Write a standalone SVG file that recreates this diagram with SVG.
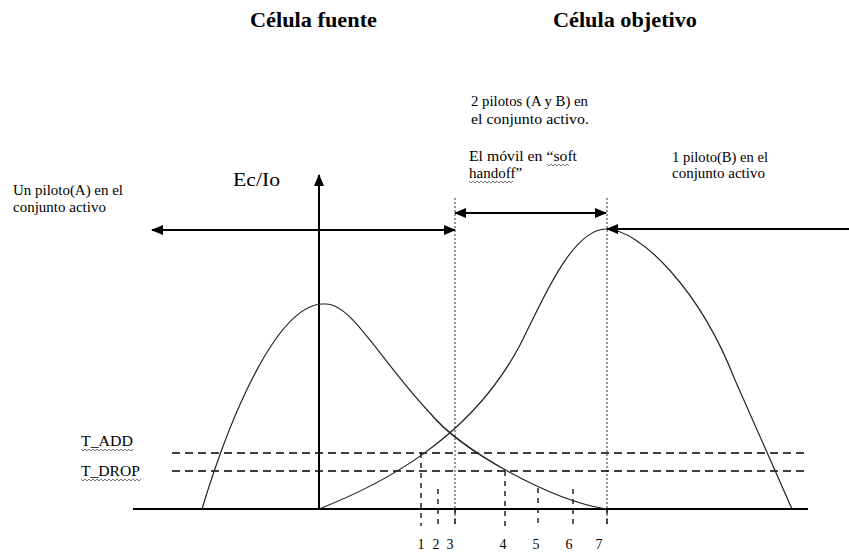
<svg xmlns="http://www.w3.org/2000/svg" width="849" height="552" viewBox="0 0 849 552">
<style>
text{font-family:"Liberation Serif","Times New Roman",serif;fill:#000}
.title{font-size:22px;font-weight:bold}
.lbl{font-size:15px}
.num{font-size:14px;text-anchor:middle}
.axis{stroke:#000;stroke-width:2;fill:none}
.arr{stroke:#000;stroke-width:2;fill:none}
.curve{stroke:#222;stroke-width:1.2;fill:none}
.thr{stroke:#000;stroke-width:1.3;stroke-dasharray:8 5;fill:none}
.tick{stroke:#000;stroke-width:1.3;stroke-dasharray:5 5;fill:none}
.dot{stroke:#333;stroke-width:1;stroke-dasharray:2 2;fill:none}
.sq{stroke:#555;stroke-width:0.8;fill:none}
</style>
<defs>
<marker id="ah" viewBox="0 0 12 10" refX="11" refY="5" markerWidth="12" markerHeight="10" markerUnits="userSpaceOnUse" orient="auto-start-reverse">
<path d="M0,0 L12,5 L0,10 Z" fill="#000"/>
</marker>
</defs>
<rect width="849" height="552" fill="#fff"/>

<g id="titles">
<text class="title" x="250" y="27" textLength="127" lengthAdjust="spacingAndGlyphs">Célula fuente</text>
<text class="title" x="553" y="27" textLength="144" lengthAdjust="spacingAndGlyphs">Célula objetivo</text>
</g>

<g id="labels">
<text class="lbl" x="471" y="106" textLength="117" lengthAdjust="spacingAndGlyphs">2 pilotos (A y B) en</text>
<text class="lbl" x="471" y="124" textLength="118" lengthAdjust="spacingAndGlyphs">el  conjunto  activo.</text>
<text class="lbl" x="469" y="161" textLength="108" lengthAdjust="spacingAndGlyphs">El móvil en  “soft</text>
<text class="lbl" x="469" y="178">handoff”</text>
<text class="lbl" x="672" y="162" textLength="96" lengthAdjust="spacingAndGlyphs">1 piloto(B) en el</text>
<text class="lbl" x="672" y="178">conjunto activo</text>
<text class="lbl" x="13" y="195" textLength="110" lengthAdjust="spacingAndGlyphs">Un piloto(A) en el</text>
<text class="lbl" x="13" y="212">conjunto activo</text>
<text x="233" y="186" style="font-size:18px" textLength="47" lengthAdjust="spacingAndGlyphs">Ec/Io</text>
<text class="lbl" x="81" y="446" textLength="52" lengthAdjust="spacingAndGlyphs">T_ADD</text>
<text class="lbl" x="81" y="476" textLength="59" lengthAdjust="spacingAndGlyphs">T_DROP</text>
<path class="sq" d="M547,164 l2,2 l2,-2 l2,2 l2,-2 l2,2 l2,-2 l2,2 l2,-2 l2,2 l2,-2 l2,2"/>
<path class="sq" d="M469,181 l2,2 l2,-2 l2,2 l2,-2 l2,2 l2,-2 l2,2 l2,-2 l2,2 l2,-2 l2,2 l2,-2 l2,2 l2,-2 l2,2 l2,-2 l2,2 l2,-2 l2,2 l2,-2 l2,2 l2,-2"/>
<path class="sq" d="M81,449 l2,2 l2,-2 l2,2 l2,-2 l2,2 l2,-2 l2,2 l2,-2 l2,2 l2,-2 l2,2 l2,-2 l2,2 l2,-2 l2,2 l2,-2 l2,2 l2,-2 l2,2 l2,-2 l2,2 l2,-2 l2,2 l2,-2 l2,2 l2,-2"/>
<path class="sq" d="M81,479 l2,2 l2,-2 l2,2 l2,-2 l2,2 l2,-2 l2,2 l2,-2 l2,2 l2,-2 l2,2 l2,-2 l2,2 l2,-2 l2,2 l2,-2 l2,2 l2,-2 l2,2 l2,-2 l2,2 l2,-2 l2,2 l2,-2 l2,2 l2,-2 l2,2 l2,-2 l2,2 l2,-2"/>
</g>

<g id="numbers">
<text class="num" x="421" y="549">1</text>
<text class="num" x="436" y="549">2</text>
<text class="num" x="450" y="549">3</text>
<text class="num" x="503" y="549">4</text>
<text class="num" x="536" y="549">5</text>
<text class="num" x="569" y="549">6</text>
<text class="num" x="599" y="549">7</text>
</g>

<g id="guides">
<line class="dot" x1="455" y1="198" x2="455" y2="526"/>
<line class="dot" x1="607" y1="198" x2="607" y2="526"/>
<line class="thr" x1="172" y1="453" x2="808" y2="453"/>
<line class="thr" x1="172" y1="471" x2="808" y2="471"/>
<line class="tick" x1="421" y1="453" x2="421" y2="526"/>
<line class="tick" x1="438" y1="489" x2="438" y2="526"/>
<line class="tick" x1="455" y1="509" x2="455" y2="526"/>
<line class="tick" x1="505" y1="471" x2="505" y2="526"/>
<line class="tick" x1="538" y1="488" x2="538" y2="526"/>
<line class="tick" x1="573" y1="489" x2="573" y2="526"/>
<line class="tick" x1="607" y1="509" x2="607" y2="526"/>
</g>

<g id="axes">
<line class="axis" x1="133" y1="509" x2="808" y2="509"/>
<line class="axis" x1="319" y1="509" x2="319" y2="175" marker-end="url(#ah)"/>
</g>

<g id="curves">
<path id="curveA" class="curve" d="M202,509 C232,410 278,306 322,304 L326,304 C352,304 380,360 430,413 C460,450 550,500 606,509"/>
<path id="curveB" class="curve" d="M319,509 C380,485 470,440 520,345 C538,311 570,229 606,229 C640,229 700,290 735,380 L792,509"/>
</g>

<g id="connectors">
<line class="arr" x1="152" y1="230" x2="455" y2="230" marker-start="url(#ah)" marker-end="url(#ah)"/>
<line class="arr" x1="455" y1="213" x2="606" y2="213" marker-start="url(#ah)" marker-end="url(#ah)"/>
<line class="arr" x1="849" y1="229" x2="607" y2="229" marker-end="url(#ah)"/>
</g>
</svg>
